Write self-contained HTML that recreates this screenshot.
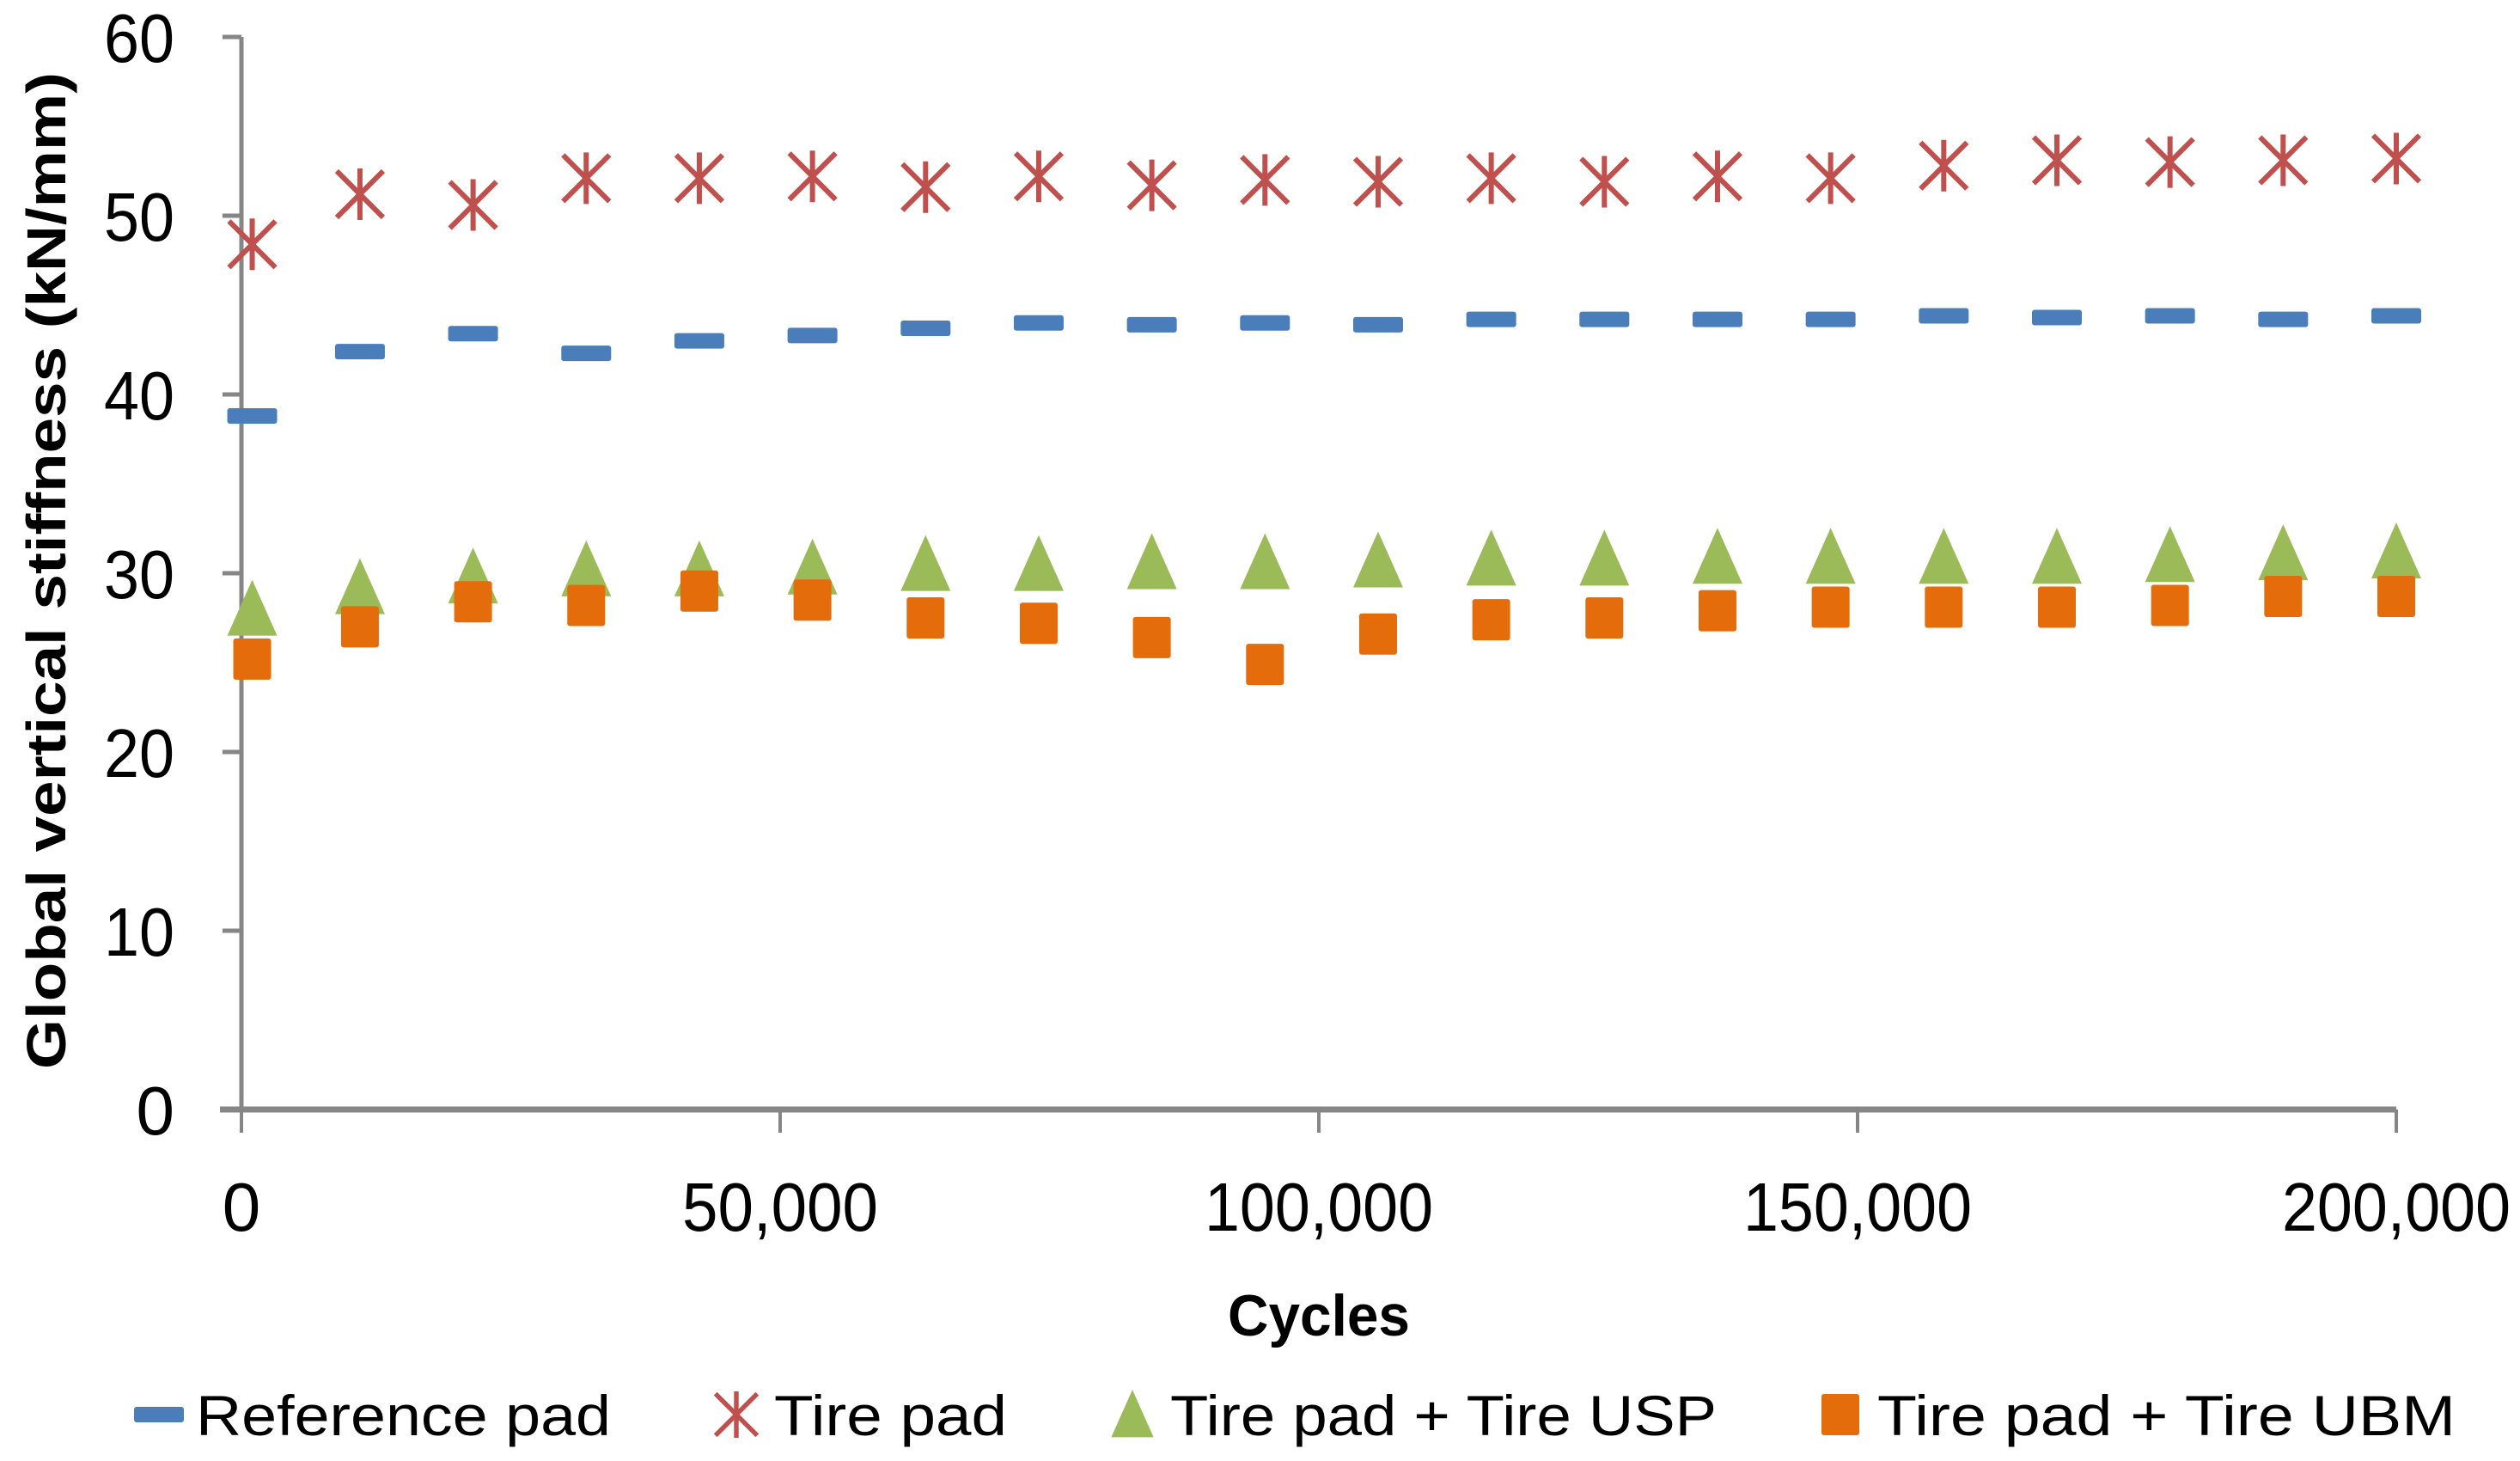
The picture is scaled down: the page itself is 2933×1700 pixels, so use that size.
<!DOCTYPE html>
<html><head><meta charset="utf-8"><style>
html,body{margin:0;padding:0;background:#fff;}
svg{display:block;font-family:"Liberation Sans",sans-serif;}
</style></head><body>
<svg id="chart" width="2933" height="1700" viewBox="0 0 2933 1700" xmlns="http://www.w3.org/2000/svg">
<g id="axes"></g><g id="marks"></g><g id="legend"></g>
</svg>
<script>
const cycles=[1000,11000,21500,32000,42500,53000,63500,74000,84500,95000,105500,116000,126500,137000,147500,158000,168500,179000,189500,200000];
const referencePad=[38.8,42.4,43.4,42.3,43.0,43.3,43.7,44.0,43.9,44.0,43.9,44.2,44.2,44.2,44.2,44.4,44.3,44.4,44.2,44.4];
const tirePad=[48.4,51.2,50.6,52.1,52.1,52.2,51.6,52.2,51.7,52.0,51.9,52.1,51.9,52.2,52.1,52.8,53.1,53.0,53.1,53.2];
const tireUSP=[28.0,29.2,29.8,30.2,30.2,30.3,30.5,30.5,30.6,30.6,30.7,30.8,30.8,30.9,30.9,30.9,30.9,31.0,31.1,31.2];
const tireUBM=[25.2,27.0,28.4,28.2,29.0,28.5,27.5,27.2,26.4,24.9,26.6,27.4,27.5,27.9,28.1,28.1,28.1,28.2,28.7,28.7];
const yTicks=[0,10,20,30,40,50,60];
const xTicks=[0,50000,100000,150000,200000];
const xTickLabels=["0","50,000","100,000","150,000","200,000"];

const NS="http://www.w3.org/2000/svg";
const X0=281,X1=2789,Y0=1291,Y1=43;
function xs(v){return X0+(v-0)/(200000)*(X1-X0);}
function ys(v){return Y0-(v/60)*(Y0-Y1);}
function el(tag,attrs,parent){const e=document.createElementNS(NS,tag);for(const k in attrs)e.setAttribute(k,attrs[k]);parent.appendChild(e);return e;}
const axes=document.getElementById('axes'),marks=document.getElementById('marks'),legend=document.getElementById('legend');
const G="#868686";
let a=el('line',{x1:X0,y1:Y1,x2:X0,y2:Y0,stroke:G,'stroke-width':5},axes);

yTicks.forEach(v=>{
 const t=el('line',{x1:X0-22,y1:ys(v),x2:X0,y2:ys(v),stroke:G,'stroke-width':5},axes);
 
 const attrs={x:203,y:ys(v)+29,'text-anchor':'end','font-size':80,fill:'#000'};
 if(String(v).length==2){attrs.textLength=82;attrs.lengthAdjust='spacingAndGlyphs';}
 const l=el('text',attrs,axes);
 l.textContent=v;
 
});
a=el('line',{x1:X0-25,y1:Y0,x2:X1,y2:Y0,stroke:G,'stroke-width':7},axes);

xTicks.forEach((v,i)=>{
 const t=el('line',{x1:xs(v),y1:Y0,x2:xs(v),y2:Y0+27,stroke:G,'stroke-width':4},axes);
 
 const attrs={x:xs(v),y:1432,'text-anchor':'middle','font-size':80,fill:'#000'};
 const len=xTickLabels[i].length;
 if(len>1){attrs.textLength=len*38;attrs.lengthAdjust='spacingAndGlyphs';}
 const l=el('text',attrs,axes);
 l.textContent=xTickLabels[i];
 
});
let tt=el('text',{x:1535,y:1554,'text-anchor':'middle','font-size':68,'font-weight':'bold',fill:'#000',textLength:212,lengthAdjust:'spacingAndGlyphs'},axes);
tt.textContent='Cycles';

tt=el('text',{x:0,y:0,'text-anchor':'middle','font-size':64,'font-weight':'bold',fill:'#000',transform:'translate(76,664) rotate(-90)',textLength:1160,lengthAdjust:'spacingAndGlyphs'},axes);
tt.textContent='Global vertical stiffness (kN/mm)';


function dash(cx,cy,p,name){const m=el('rect',{x:cx-29,y:cy-9,width:58,height:18,rx:3,fill:'#4a7ebb'},p);}
function star(cx,cy,p,name){const g=el('g',{stroke:'#c0504d','stroke-width':6,fill:'none'},p);
 el('line',{x1:cx-27,y1:cy-27,x2:cx+27,y2:cy+27},g);el('line',{x1:cx-27,y1:cy+27,x2:cx+27,y2:cy-27},g);el('line',{x1:cx,y1:cy-30,x2:cx,y2:cy+30},g);
 }
function tri(cx,cy,p,name){const m=el('polygon',{points:`${cx},${cy-34} ${cx+29},${cy+31} ${cx-29},${cy+31}`,fill:'#9bbb59'},p);}
function sq(cx,cy,p,name){const m=el('rect',{x:cx-22,y:cy-24,width:44,height:48,rx:3,fill:'#e46c0a'},p);}

cycles.forEach((c,i)=>{
 dash(xs(c),ys(referencePad[i]),marks,'reference-pad-point');
 star(xs(c),ys(tirePad[i]),marks,'tire-pad-point');
 tri(xs(c),ys(tireUSP[i]),marks,'tire-usp-point');
 sq(xs(c),ys(tireUBM[i]),marks,'tire-ubm-point');
});

const legendNames=["Reference pad","Tire pad","Tire pad + Tire USP","Tire pad + Tire UBM"];
const lgMark=[185,857,1318,2142];
const lgText=[228,901,1362,2185];
const lgW=[483,271,636,673];
const fns=[dash,star,tri,sq];
const LY=1646;
legendNames.forEach((n,i)=>{
 const g=el('g',{},legend);
 
 if(i==1){const s=el('g',{transform:`translate(${lgMark[i]},${LY}) scale(0.9)`},g);star(0,0,s,'legend-marker');}
 else if(i==2){const s=el('g',{transform:`translate(${lgMark[i]},${LY}) scale(0.85)`},g);tri(0,0,s,'legend-marker');}
 else fns[i](lgMark[i],LY,g,'legend-marker');
 const t=el('text',{x:lgText[i],y:LY+24,'font-size':66,fill:'#000',textLength:lgW[i],lengthAdjust:'spacingAndGlyphs'},g);
 t.textContent=n;
 
});
</script>
</body></html>
